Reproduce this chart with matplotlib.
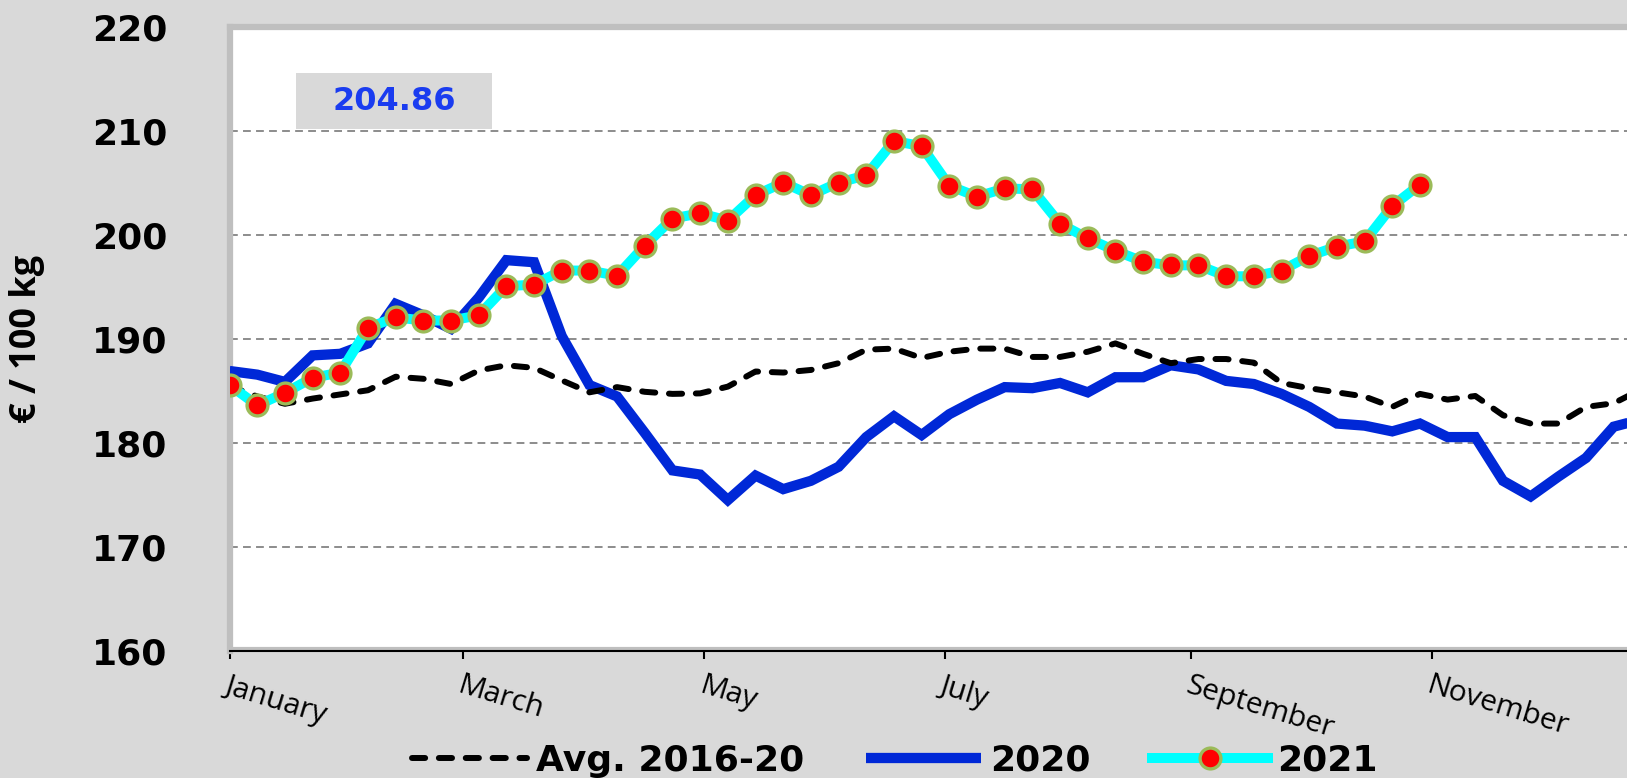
import matplotlib
matplotlib.use("Agg")
import matplotlib.pyplot as plt
from matplotlib import font_manager
from matplotlib.patches import Rectangle
import numpy as np

# weekly prices, EUR / 100 kg
avg_2016_20 = [185.5, 184.5, 183.8, 184.3, 184.7, 185.1, 186.4, 186.2, 185.7, 187.0,
               187.5, 187.25, 186.05, 184.9, 185.4, 184.95, 184.75, 184.8, 185.45, 186.9,
               186.8, 187.05, 187.7, 189.0, 189.1, 188.2, 188.8, 189.1, 189.1, 188.3,
               188.3, 188.8, 189.6, 188.6, 187.7, 188.1, 188.1, 187.75, 185.8, 185.3,
               184.9, 184.5, 183.5, 184.75, 184.2, 184.55, 182.7, 181.9, 181.9, 183.5,
               183.85, 185.2]
y2020 = [186.95, 186.6, 185.9, 188.45, 188.6, 189.6, 193.4, 192.3, 191.0, 194.0,
         197.6, 197.4, 190.3, 185.6, 184.5, 181.0, 177.4, 177.0, 174.55, 176.9,
         175.6, 176.4, 177.75, 180.6, 182.6, 180.8, 182.8, 184.2, 185.4, 185.3,
         185.8, 184.9, 186.35, 186.35, 187.5, 187.1, 186.0, 185.7, 184.75, 183.5,
         181.9, 181.7, 181.15, 181.9, 180.6, 180.6, 176.4, 174.9, 176.8, 178.6,
         181.6, 182.3]
y2021 = [185.6, 183.65, 184.85, 186.3, 186.8, 191.1, 192.1, 191.8, 191.8, 192.3,
         195.1, 195.25, 196.6, 196.6, 196.1, 199.0, 201.6, 202.1, 201.4, 203.85,
         205.05, 203.85, 205.05, 205.75, 209.05, 208.55, 204.75, 203.7, 204.5, 204.4,
         201.1, 199.7, 198.5, 197.45, 197.1, 197.1, 196.05, 196.05, 196.6, 198.0,
         198.9, 199.4, 202.8, 204.86]

month_days = [0, 59, 120, 181, 243, 304]
month_labels = ["January", "March", "May", "July", "September", "November"]
last_price = "204.86"

days_avg = np.arange(len(avg_2016_20)) * 7
days_2020 = np.arange(len(y2020)) * 7
days_2021 = np.arange(len(y2021)) * 7

# narrow font for the y label if there is one
installed = {f.name for f in font_manager.fontManager.ttflist}
if "Liberation Sans Narrow" in installed:
    ylab_font, ylab_size = "Liberation Sans Narrow", 32
else:
    ylab_font, ylab_size = "Open Sans", 26

bg = "#D9D9D9"
fig = plt.figure(figsize=(16.27, 7.78), dpi=100, facecolor=bg)
ax = fig.add_axes([0.1411, 0.1626, 0.8872, 0.8027])
ax.set_facecolor("white")

ax.set_ylim(160, 220)
ax.set_xlim(0, 365)

# grid
for v in [170, 180, 190, 200, 210]:
    ax.axhline(v, color="#8C8C8C", lw=1.4, ls=(0, (4, 2.7)), zorder=1)
ax.axhline(160.25, color="#BFBFBF", lw=3, zorder=1)

h20, = ax.plot(days_2020, y2020, color="#0028D7", lw=7.4, solid_joinstyle="miter",
               solid_capstyle="butt", zorder=3, label="2020")
havg, = ax.plot(days_avg, avg_2016_20, color="black", lw=4.3, ls=(0, (2.2, 2.3)),
                dash_capstyle="round", zorder=4, label="Avg. 2016-20")
h21, = ax.plot(days_2021, y2021, color="#00FFFF", lw=7.2, marker="o", ms=15,
               mfc="#FF0000", mec="#9BBB59", mew=2.4, zorder=5, label="2021")

# spines
for s in ["top", "left", "right"]:
    ax.spines[s].set_color("#BFBFBF")
    ax.spines[s].set_linewidth(4.5)
ax.spines["bottom"].set_color("black")
ax.spines["bottom"].set_linewidth(1.5)

ax.set_yticks([160, 170, 180, 190, 200, 210, 220])
ax.tick_params(axis="y", length=0, pad=45, labelsize=26)
for t in ax.get_yticklabels():
    t.set_fontweight("bold")

ax.set_xticks(month_days)
ax.set_xticklabels(month_labels, rotation=-17, ha="left", va="top",
                   rotation_mode="anchor", fontsize=21.5, family="Open Sans")
ax.tick_params(axis="x", direction="out", length=6, width=1.5, color="black", pad=8)

ax.set_ylabel("€ / 100 kg", fontsize=ylab_size, fontweight="bold", family=ylab_font)
ax.yaxis.set_label_coords(-0.128, 0.5)

# last value box
ax.add_patch(Rectangle((0.046, 0.8365), 0.1358, 0.0893, transform=ax.transAxes,
                       facecolor=bg, edgecolor="none", zorder=6))
ax.text(0.1139, 0.8814, last_price, transform=ax.transAxes, ha="center", va="center",
        color="#1A3CF0", fontsize=23, fontweight="bold", zorder=7)

fig.legend(handles=[havg, h20, h21], loc="center", bbox_to_anchor=(0.5498, 0.022),
           ncol=3, frameon=False, prop={"weight": "bold", "size": 26},
           handlelength=3.2, handletextpad=0.25, columnspacing=1.7)

fig.savefig("out.png", dpi=100, facecolor=bg)
